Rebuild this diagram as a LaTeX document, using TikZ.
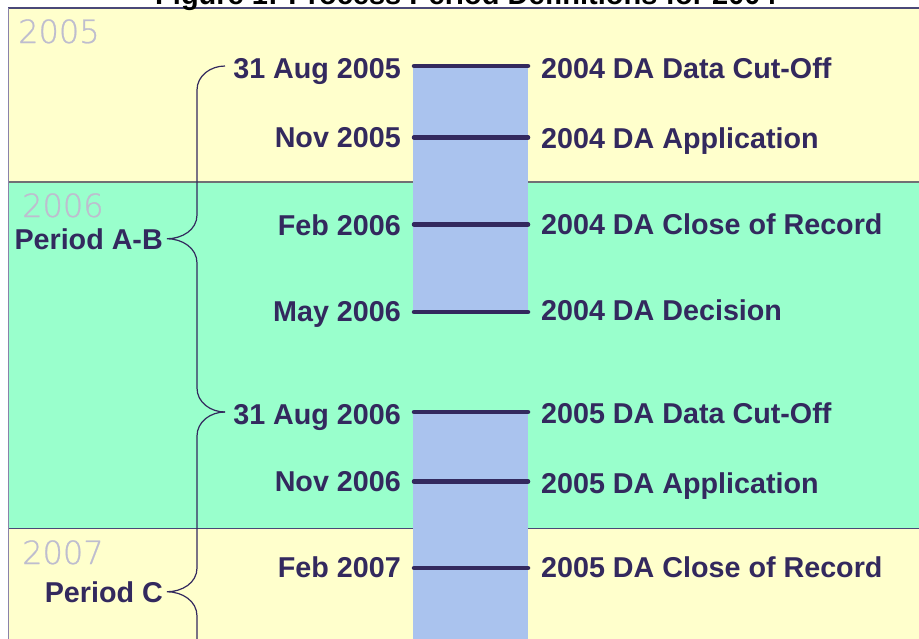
\documentclass[tikz,border=0pt]{standalone}
\usepackage{xcolor}
\usepackage{fontspec}
\setmainfont{Liberation Sans}
\newfontfamily\yearfont[FakeBold = 0.8]{DejaVu Sans ExtraLight}
\usepackage{tikz}
\usetikzlibrary{calc}
\usetikzlibrary{positioning}
\definecolor{ink}{HTML}{33295E}
\definecolor{paleyellow}{HTML}{FFFFCC}
\definecolor{palegreen}{HTML}{99FFCC}
\definecolor{barblue}{HTML}{AAC3EE}
\definecolor{yeargray}{HTML}{BEBDCF}
\definecolor{rulegray}{HTML}{707074}
\definecolor{rulenavy}{HTML}{4A4878}
\definecolor{borderpurple}{HTML}{8A82AA}
\tikzstyle{datelbl} = [anchor = base east, inner sep = 0, text = ink, font = \fontsize{28.7}{30}\selectfont\bfseries]
\tikzstyle{eventlbl} = [anchor = base west, inner sep = 0, text = ink, font = \fontsize{28.7}{30}\selectfont\bfseries]
\tikzstyle{periodlbl} = [anchor = base east, inner xsep = 4pt, inner ysep = 0, text = ink, font = \fontsize{28.7}{30}\selectfont\bfseries]
\tikzstyle{yearlbl} = [anchor = base west, inner sep = 0, text = yeargray, font = \yearfont\fontsize{32}{34}\selectfont]
\tikzstyle{tickline} = [draw = ink, line width = 4.5pt, line cap = round]
\tikzstyle{brc} = [draw = ink, line width = 1.2pt]

\begin{document}
\begin{tikzpicture}[x = 1pt, y = -1pt]
\useasboundingbox (0, 0) rectangle (919, 638);
\fill [white] (0, 0) rectangle (919, 638);
\fill [paleyellow] (8, 8) rectangle (925, 182);
\fill [palegreen] (8, 182) rectangle (925, 528);
\fill [paleyellow] (8, 528) rectangle (925, 645);
\draw [rulenavy, line width = 1.5pt] (8, 8) -- (925, 8);
\draw [rulegray, line width = 1.5pt] (8, 182) -- (925, 182);
\draw [rulenavy, line width = 1pt] (8, 528) -- (925, 528);
\draw [borderpurple, line width = 1pt] (8, 8) -- (8, 645);
\fill [barblue] (413, 66) rectangle (528, 312);
\fill [barblue] (413, 412) rectangle (528, 645);
\node [anchor = base, inner sep = 0, font = \fontsize{29}{30}\selectfont\bfseries] (T) at (466, 4) {Figure 1: Process Period Definitions for 2004};
\node [yearlbl] (Y5) at (18, 43) {2005};
\node [yearlbl] (Y6) at (22, 217) {2006};
\node [yearlbl] (Y7) at (22, 564) {2007};
\draw [tickline] (414, 66) -- (528, 66);
\draw [tickline] (414, 137.5) -- (528, 137.5);
\draw [tickline] (414, 224.5) -- (528, 224.5);
\draw [tickline] (414, 312) -- (528, 312);
\draw [tickline] (414, 412) -- (528, 412);
\draw [tickline] (414, 481.5) -- (528, 481.5);
\draw [tickline] (414, 568) -- (528, 568);
\node [datelbl] (D1) at (401, 78) {31 Aug 2005};
\node [datelbl] (D2) at (401, 147) {Nov 2005};
\node [datelbl] (D3) at (401, 235) {Feb 2006};
\node [datelbl] (D4) at (401, 321) {May 2006};
\node [datelbl] (D5) at (401, 424) {31 Aug 2006};
\node [datelbl] (D6) at (401, 491) {Nov 2006};
\node [datelbl] (D7) at (401, 577) {Feb 2007};
\node [eventlbl] (E1) at (541, 78) {2004 DA Data Cut-Off};
\node [eventlbl] (E2) at (541, 148) {2004 DA Application};
\node [eventlbl] (E3) at (541, 234) {2004 DA Close of Record};
\node [eventlbl] (E4) at (541, 320) {2004 DA Decision};
\node [eventlbl] (E5) at (541, 423) {2005 DA Data Cut-Off};
\node [eventlbl] (E6) at (541, 493) {2005 DA Application};
\node [eventlbl] (E7) at (541, 577) {2005 DA Close of Record};
\node [periodlbl] (PAB) at (167, 249) {Period A-B};
\node [periodlbl] (PC) at (167, 602) {Period C};
\coordinate (B1) at (225, 66);
\coordinate (B2) at (225, 412);
\coordinate (B3) at (197, 660);
\draw [brc] (B1) to [out = 180, in = 90] (197, 90) -- (197, 215) to [out = 270, in = 0] (PAB.east) to [out = 0, in = 90] (197, 263) -- (197, 388) to [out = 270, in = 180] (B2);
\draw [brc] (B2) to [out = 180, in = 90] (197, 436) -- (197, 568) to [out = 270, in = 0] (PC.east) to [out = 0, in = 90] (197, 616) -- (B3);
\end{tikzpicture}
\end{document}
